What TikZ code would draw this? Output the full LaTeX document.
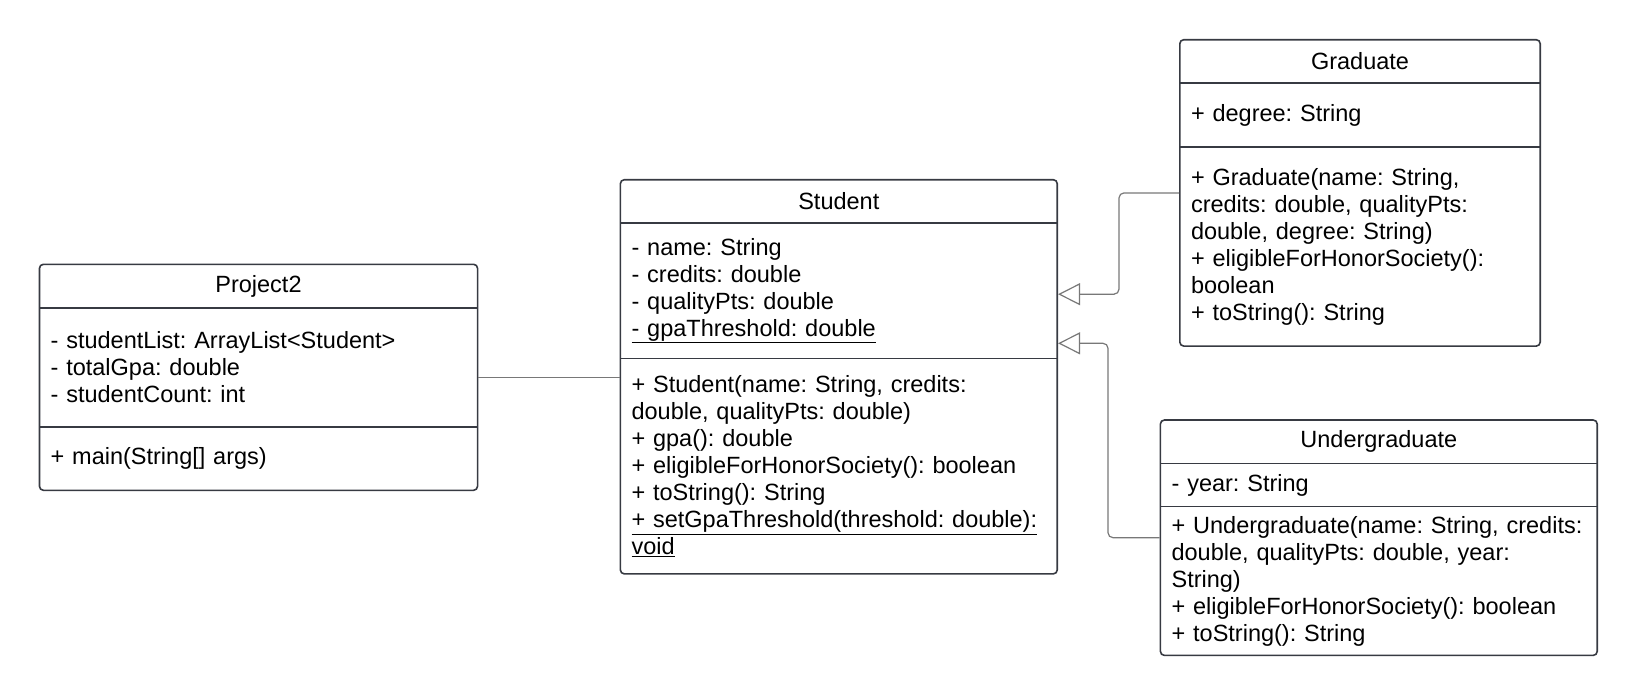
\documentclass[tikz,border=0pt]{standalone}
\usepackage{fontspec}
\setmainfont{Liberation Sans}
\usetikzlibrary{positioning,fit,arrows.meta}
\definecolor{boxLine}{RGB}{55,58,66}
\definecolor{linkGray}{RGB}{120,120,120}
\hyphenpenalty=10000

\begin{document}
\begin{tikzpicture}[
    x=1pt, y=1pt,
    font=\fontsize{23.5}{27}\selectfont\frenchspacing,
    clshead/.style={minimum height=43pt, inner sep=0pt, anchor=north, align=center},
    clspart/.style={text width=#1, inner xsep=11pt, inner ysep=0pt, align=left},
    clsbox/.style={draw=boxLine, line width=1.6pt, rounded corners=4pt, inner sep=0pt},
    divider/.style={draw=boxLine, line width=1.6pt},
    assoc/.style={draw=linkGray, line width=1.2pt},
    inherit/.style={draw=linkGray, line width=1.2pt, rounded corners=5pt,
        -{Triangle[length=22pt, width=22pt, fill=white]}}
]
\useasboundingbox (0,0) rectangle (1638,-696);

% Project2
\node[clshead, minimum width=437.7pt] (p2head) at (258.5,-264.3) {Project2};
\node[clspart=415.7pt, minimum height=119pt, below=0pt of p2head] (p2attr)
    {- studentList: ArrayList<Student>\\- totalGpa: double\\- studentCount: int};
\node[clspart=415.7pt, minimum height=62.8pt, below=0pt of p2attr] (p2ops)
    {+ main(String[] args)};
\node[clsbox, fit=(p2head)(p2ops)] (project2) {};
\draw[divider] (p2attr.north west) -- (p2attr.north east);
\draw[divider] (p2ops.north west) -- (p2ops.north east);

% Student
\node[clshead, minimum width=436.5pt] (sthead) at (838.8,-179.7) {Student};
\node[clspart=414.5pt, minimum height=134.8pt, below=0pt of sthead] (stattr)
    {- name: String\\- credits: double\\- qualityPts: double\\\underline{- gpaThreshold: double}};
\node[clspart=414.5pt, minimum height=215.2pt, below=0pt of stattr] (stops)
    {+ Student(name: String, credits:\\double, qualityPts: double)\\+ gpa(): double\\+ eligibleForHonorSociety(): boolean\\+ toString(): String\\\underline{+ setGpaThreshold(threshold: double):}\\\underline{void}};
\node[clsbox, fit=(sthead)(stops)] (student) {};
\draw[divider] (stattr.north west) -- (stattr.north east);
\draw[divider] (stops.north west) -- (stops.north east);

% Graduate
\node[clshead, minimum width=360pt] (grhead) at (1360,-39.7) {Graduate};
\node[clspart=338pt, minimum height=63.7pt, below=0pt of grhead] (grattr)
    {+ degree: String};
\node[clspart=338pt, minimum height=198.5pt, below=0pt of grattr] (grops)
    {+ Graduate(name: String,\\credits: double, qualityPts:\\double, degree: String)\\+ eligibleForHonorSociety():\\boolean\\+ toString(): String};
\node[clsbox, fit=(grhead)(grops)] (graduate) {};
\draw[divider] (grattr.north west) -- (grattr.north east);
\draw[divider] (grops.north west) -- (grops.north east);

% Undergraduate
\node[clshead, minimum width=436.4pt] (ughead) at (1378.8,-420) {Undergraduate};
\node[clspart=414.4pt, minimum height=42.8pt, below=0pt of ughead] (ugattr)
    {- year: String};
\node[clspart=414.4pt, minimum height=148.4pt, below=0pt of ugattr] (ugops)
    {+ Undergraduate(name: String, credits:\\double, qualityPts: double, year:\\String)\\+ eligibleForHonorSociety(): boolean\\+ toString(): String};
\node[clsbox, fit=(ughead)(ugops)] (undergrad) {};
\draw[divider] (ugattr.north west) -- (ugattr.north east);
\draw[divider] (ugops.north west) -- (ugops.north east);

% relations
\draw[assoc] (project2.east) -- (project2.east -| student.west);
\draw[inherit] (graduate.west) -- ++(-60,0) |- ([yshift=82.6pt]student.east);
\draw[inherit] (undergrad.west) -- ++(-51.6,0) |- ([yshift=33.5pt]student.east);
\end{tikzpicture}
\end{document}
